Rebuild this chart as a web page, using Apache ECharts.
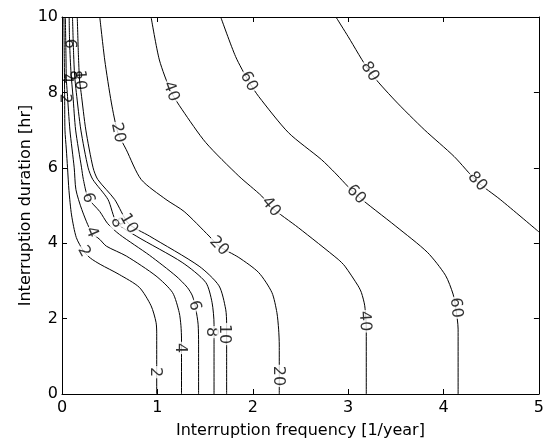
<!DOCTYPE html>
<html>
<head>
<meta charset="utf-8">
<script src="https://cdn.jsdelivr.net/npm/echarts@6/dist/echarts.min.js"></script>
<style>
html,body{margin:0;padding:0;background:#fff;}
#chart{width:547px;height:444px;}
</style>
</head>
<body>
<div id="chart"></div>
<script>
// ---- data ----
const xTicks = [0, 1, 2, 3, 4, 5];
const yTicks = [0, 2, 4, 6, 8, 10];
const levels = [2, 4, 6, 8, 10, 20, 40, 60, 80];

const contour2 = [[0.020,10],[0.024,8.9],[0.028,7.84],[0.031,7.0],[0.045,6.5],[0.058,6.0],[0.073,5.4],[0.10,4.75],[0.15,4.15],[0.229,3.78],[0.30,3.60],[0.40,3.44],[0.60,3.17],[0.81,2.83],[0.934,2.34],[0.986,1.9],[0.993,1.6],[0.993,0]];
const contour4 = [[0.035,10],[0.042,8.9],[0.045,8.37],[0.055,8.0],[0.083,7.0],[0.128,6.0],[0.146,5.42],[0.208,4.89],[0.309,4.29],[0.396,4.10],[0.466,3.92],[0.674,3.66],[0.986,3.13],[1.159,2.69],[1.229,2.16],[1.247,1.81],[1.253,1.46],[1.253,0]];
const contour6 = [[0.075,10],[0.080,9.29],[0.095,8.5],[0.115,7.9],[0.143,7.0],[0.205,6.0],[0.224,5.69],[0.274,5.20],[0.396,4.84],[0.479,4.52],[0.604,4.23],[0.917,3.68],[1.195,3.13],[1.313,2.83],[1.368,2.60],[1.403,2.25],[1.427,1.85],[1.432,1.32],[1.432,0]];
const contour8 = [[0.11,10],[0.122,9.0],[0.132,8.46],[0.15,8.0],[0.198,7.0],[0.274,6.0],[0.323,5.69],[0.482,5.16],[0.573,4.55],[0.778,4.19],[1.26,3.49],[1.507,2.96],[1.573,2.43],[1.594,1.85],[1.594,1.32],[1.594,0]];
const contour10 = [[0.16,10],[0.172,9.0],[0.184,8.33],[0.20,8.0],[0.25,7.0],[0.326,6.0],[0.375,5.69],[0.552,5.16],[0.698,4.52],[0.917,4.19],[1.4375,3.39],[1.646,2.87],[1.716,2.25],[1.726,1.85],[1.726,1.32],[1.726,0]];
const contour20 = [[0.396,10],[0.448,8.86],[0.518,7.72],[0.586,6.93],[0.674,6.48],[0.83,5.69],[1.09,5.16],[1.281,4.84],[1.542,4.19],[1.646,3.92],[1.854,3.62],[2.0625,3.22],[2.201,2.69],[2.253,2.16],[2.271,1.72],[2.278,1.3],[2.278,0]];
const contour40 = [[0.934,10],[1.021,8.86],[1.143,8.02],[1.26,7.54],[1.507,6.67],[1.854,5.78],[2.094,5.25],[2.19,4.96],[2.479,4.41],[2.896,3.57],[2.966,3.39],[3.104,2.87],[3.139,2.69],[3.174,2.34],[3.19,1.72],[3.19,0]];
const contour60 = [[1.664,10],[1.82,8.95],[1.958,8.29],[2.0625,7.89],[2.375,6.93],[2.719,6.22],[2.861,5.87],[3.083,5.29],[3.5,4.45],[3.83,3.76],[4.02,3.15],[4.10,2.65],[4.128,2.29],[4.153,1.72],[4.153,0]];
const contour80 = [[2.872,10],[3.0,9.48],[3.226,8.55],[3.486,7.80],[3.799,7.01],[4.111,6.30],[4.354,5.63],[4.594,5.16],[5.0,4.30]];

const contours = [contour2, contour4, contour6, contour8, contour10, contour20, contour40, contour60, contour80];

// contour labels: level, x, y
const labelLevel = [6, 4, 2, 8, 10, 6, 4, 2, 8, 10, 20, 20, 40, 40, 60, 60, 80, 80, 2, 4, 6, 8, 10, 20, 40, 60];
const labelX = [0.080, 0.045, 0.028, 0.132, 0.184, 0.274, 0.309, 0.229, 0.573, 0.698, 0.586, 1.646, 1.143, 2.19, 1.958, 3.083, 3.226, 4.354, 0.975, 1.235, 1.39, 1.565, 1.70, 2.262, 3.172, 4.13];
const labelY = [9.29, 8.37, 7.84, 8.46, 8.33, 5.20, 4.29, 3.78, 4.55, 4.52, 6.93, 3.92, 8.02, 4.96, 8.29, 5.29, 8.55, 5.63, 0.58, 1.22, 2.34, 1.64, 1.59, 0.48, 1.93, 2.29];

const FONT = 'DejaVu Sans';
const chart = echarts.init(document.getElementById('chart'), null, {renderer: 'canvas'});

const axisCommon = {
  type: 'value',
  axisLine: {show: true, onZero: false, lineStyle: {color: '#000', width: 1}},
  axisTick: {show: true, inside: true, length: 5, lineStyle: {color: '#000', width: 1}},
  splitLine: {show: false}
};

function baseOption(labelData) {
  return {
    animation: false,
    backgroundColor: '#fff',
    grid: {left: 62, right: 5, top: 17, bottom: 49, containLabel: false},
    xAxis: [
      Object.assign({}, axisCommon, {
        min: xTicks[0], max: xTicks[xTicks.length - 1], interval: 1, position: 'bottom',
        axisLabel: {color: '#000', fontSize: 16, fontFamily: FONT, margin: 6},
        name: 'Interruption frequency [1/year]', nameLocation: 'middle', nameGap: 29,
        nameMoveOverlap: false,
        nameTextStyle: {color: '#000', fontSize: 16, fontFamily: FONT}
      }),
      Object.assign({}, axisCommon, {
        min: xTicks[0], max: xTicks[xTicks.length - 1], interval: 1, position: 'top',
        axisLabel: {show: false}
      })
    ],
    yAxis: [
      Object.assign({}, axisCommon, {
        min: yTicks[0], max: yTicks[yTicks.length - 1], interval: 2, position: 'left',
        axisLabel: {color: '#000', fontSize: 16, fontFamily: FONT, margin: 4},
        name: 'Interruption duration [hr]', nameLocation: 'middle', nameGap: 28,
        nameMoveOverlap: false,
        nameTextStyle: {color: '#000', fontSize: 16, fontFamily: FONT}
      }),
      Object.assign({}, axisCommon, {
        min: yTicks[0], max: yTicks[yTicks.length - 1], interval: 2, position: 'right',
        axisLabel: {show: false}
      })
    ],
    series: contours.map((pts, i) => ({
      name: 'z' + levels[i],
      type: 'line',
      xAxisIndex: 0, yAxisIndex: 0,
      data: pts,
      showSymbol: false,
      smooth: 0.25,
      lineStyle: {color: '#000', width: 1},
      silent: true
    })).concat([{
      type: 'scatter',
      xAxisIndex: 0, yAxisIndex: 0,
      symbolSize: 0,
      silent: true,
      z: 10,
      data: labelData
    }])
  };
}

chart.setOption(baseOption([]));

function angleFor(pts, lx, ly) {
  const p = chart.convertToPixel({xAxisIndex: 0, yAxisIndex: 0}, [lx, ly]);
  let best = null, bd = Infinity;
  for (let i = 0; i < pts.length - 1; i++) {
    const a = chart.convertToPixel({xAxisIndex: 0, yAxisIndex: 0}, pts[i]);
    const b = chart.convertToPixel({xAxisIndex: 0, yAxisIndex: 0}, pts[i + 1]);
    const vx = b[0] - a[0], vy = b[1] - a[1];
    const L2 = vx * vx + vy * vy || 1;
    let t = ((p[0] - a[0]) * vx + (p[1] - a[1]) * vy) / L2;
    t = Math.max(0, Math.min(1, t));
    const qx = a[0] + t * vx - p[0], qy = a[1] + t * vy - p[1];
    const d = qx * qx + qy * qy;
    if (d < bd) { bd = d; best = [vx, vy]; }
  }
  let ang = -Math.atan2(best[1], best[0]) * 180 / Math.PI;
  if (ang >= 90) ang -= 180;
  if (ang < -90) ang += 180;
  return ang;
}

const labelData = labelLevel.map((lev, k) => {
  const pts = contours[levels.indexOf(lev)];
  const crowded = labelY[k] > 7.5 && labelX[k] < 0.3;
  return {
    value: [labelX[k], labelY[k]],
    label: {
      show: true,
      position: 'inside',
      formatter: String(lev),
      rotate: angleFor(pts, labelX[k], labelY[k]),
      color: '#000',
      fontSize: 16,
      fontFamily: FONT,
      lineHeight: 15,
      padding: [0, 1],
      backgroundColor: crowded ? 'transparent' : '#fff'
    }
  };
});

chart.setOption(baseOption(labelData));
</script>
</body>
</html>
